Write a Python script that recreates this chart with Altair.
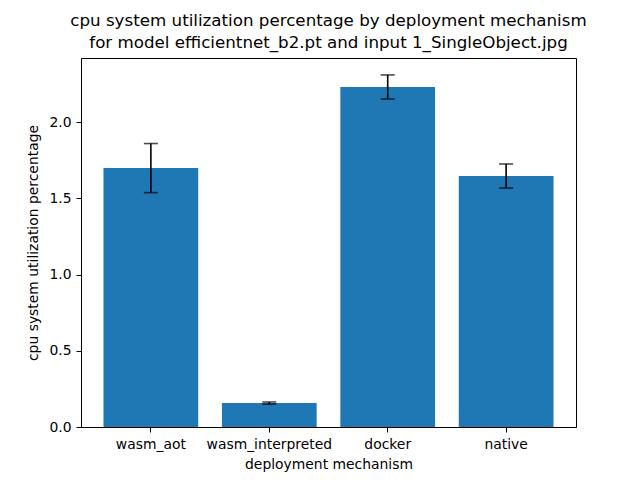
import altair as alt
import pandas as pd

mechanisms = ["wasm_aot", "wasm_interpreted", "docker", "native"]
means = [1.698, 0.157, 2.230, 1.646]
errors = [0.161, 0.007, 0.079, 0.079]

df = pd.DataFrame({"mechanism": mechanisms, "mean": means, "err": errors})
df["lo"] = df["mean"] - df["err"]
df["hi"] = df["mean"] + df["err"]

FONT = "DejaVu Sans"

x = alt.X("mechanism:N", sort=mechanisms, title="deployment mechanism",
          scale=alt.Scale(paddingInner=0.2, paddingOuter=0.19),
          axis=alt.Axis(labelAngle=0, labelFontSize=13.9, titleFontSize=13.9,
                        labelColor="black", titleColor="black", tickColor="black",
                        domainColor="black", tickSize=5, labelPadding=5,
                        titlePadding=7, titleFontWeight="normal", labelFont=FONT,
                        titleFont=FONT))
yscale = alt.Scale(domain=[0, 2.42], nice=False, zero=True)
yaxis = alt.Axis(values=[0, 0.5, 1.0, 1.5, 2.0], format=".1f", labelFontSize=13.9,
                 titleFontSize=13.9, labelColor="black", titleColor="black",
                 tickColor="black", domainColor="black", tickSize=5, grid=False,
                 labelPadding=5, titlePadding=8, titleFontWeight="normal",
                 labelFont=FONT, titleFont=FONT)

bars = alt.Chart(df).mark_bar(color="#1f77b4").encode(
    x=x,
    y=alt.Y("mean:Q", scale=yscale, axis=yaxis, title="cpu system utilization percentage"),
)
rules = alt.Chart(df).mark_rule(color="black", strokeWidth=1.6).encode(
    x=alt.X("mechanism:N", sort=mechanisms),
    y=alt.Y("lo:Q", scale=yscale),
    y2="hi:Q",
)
caps_hi = alt.Chart(df).mark_tick(color="black", orient="horizontal", size=14, thickness=1.6).encode(
    x=alt.X("mechanism:N", sort=mechanisms),
    y=alt.Y("hi:Q", scale=yscale),
)
caps_lo = alt.Chart(df).mark_tick(color="black", orient="horizontal", size=14, thickness=1.6).encode(
    x=alt.X("mechanism:N", sort=mechanisms),
    y=alt.Y("lo:Q", scale=yscale),
)

chart = alt.layer(bars, rules, caps_hi, caps_lo).properties(
    width=495,
    height=369,
    title=alt.TitleParams(
        text=["cpu system utilization percentage by deployment mechanism",
              "for model efficientnet_b2.pt and input 1_SingleObject.jpg"],
        fontSize=16.7, fontWeight="normal", font=FONT, color="black",
        anchor="middle", offset=6, lineHeight=22,
    ),
    autosize=alt.AutoSizeParams(type="none"),
    padding={"left": 73, "top": 50, "right": 56, "bottom": 45},
).configure(
    background="white",
    view=alt.ViewConfig(stroke="black", strokeWidth=1),
)

chart.save("out.html", embed_options={"renderer": "svg", "actions": False})
